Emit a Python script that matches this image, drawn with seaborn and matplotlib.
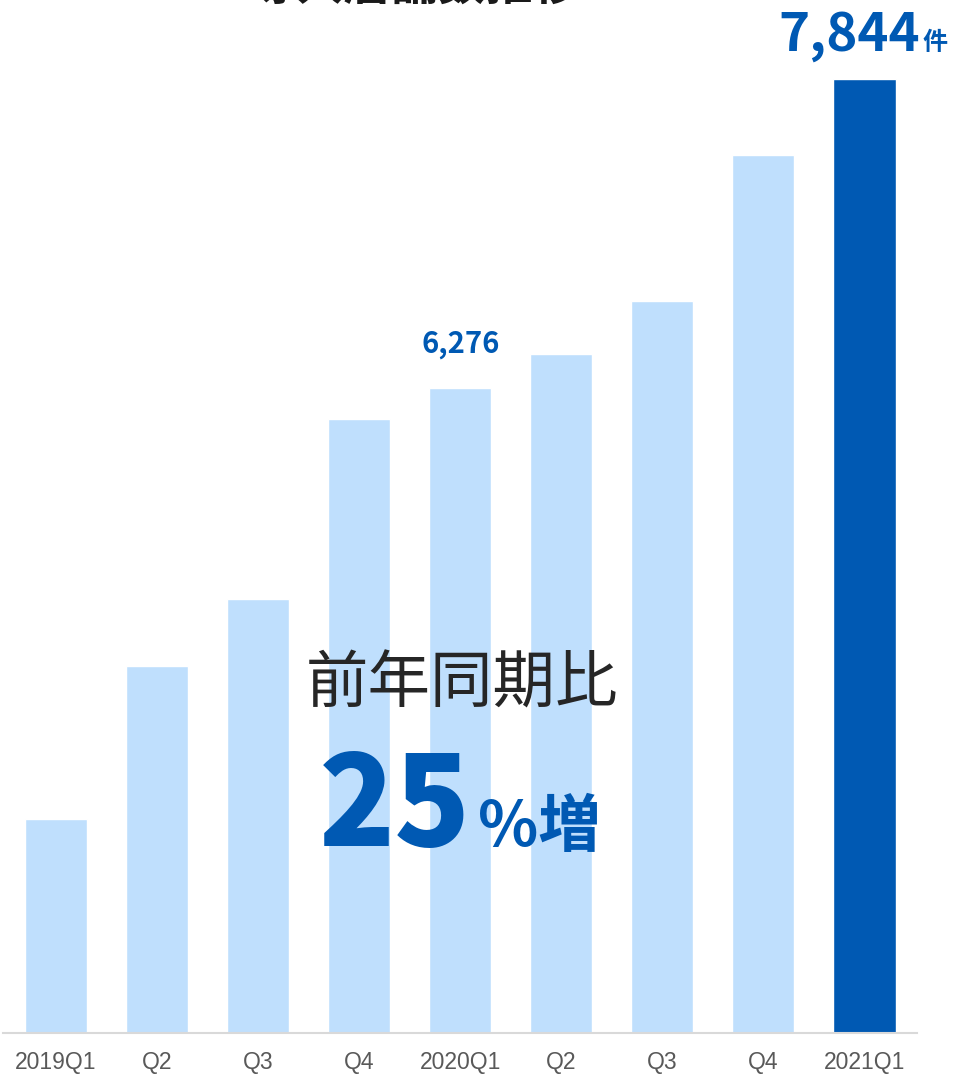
import matplotlib.pyplot as plt
import seaborn as sns
import pandas as pd

# data
quarters = ['2019Q1', 'Q2', 'Q3', 'Q4', '2020Q1', 'Q2 ', 'Q3 ', 'Q4 ', '2021Q1']
stores = [4089, 4865, 5205, 6118, 6276, 6448, 6717, 7458, 7844]
highlight = [False, False, False, False, False, False, False, False, True]
tick_labels = ['2019Q1', 'Q2', 'Q3', 'Q4', '2020Q1', 'Q2', 'Q3', 'Q4', '2021Q1']

light_blue = '#BFDFFD'
dark_blue = '#0059B3'
jp = ['Noto Sans CJK JP', 'DejaVu Sans']

sns.set_style('white')
plt.rcParams['font.family'] = jp

df = pd.DataFrame({'quarter': quarters, 'stores': stores,
                   'hl': ['y' if h else 'n' for h in highlight]})

fig = plt.figure(figsize=(9.63, 10.74), dpi=100)
ax = fig.add_axes([3 / 963, 1 - 1033 / 1074, (917 - 3) / 963, 1033 / 1074])

sns.barplot(data=df, x='quarter', y='stores', hue='hl',
            palette={'n': light_blue, 'y': dark_blue}, saturation=1,
            width=0.615, dodge=False, legend=False, ax=ax)

ax.set_xlim(-0.525, 8.52)
ax.set_ylim(3003, 8245)
ax.set_xlabel('')
ax.set_ylabel('')
ax.set_yticks([])
ax.set_xticks(range(len(tick_labels)))
ax.set_xticklabels(tick_labels, family=['Liberation Sans', 'DejaVu Sans'],
                   fontsize=16.5, color='#595959')
ax.tick_params(axis='x', length=0, pad=13)
for s in ['top', 'left', 'right']:
    ax.spines[s].set_visible(False)
ax.spines['bottom'].set_color('#D9D9D9')
ax.spines['bottom'].set_linewidth(1.5)

# value labels
ax.annotate(f'{stores[4]:,}', xy=(4, stores[4]), xytext=(0, 35),
            textcoords='offset pixels', ha='center', va='baseline',
            fontsize=21, fontweight='bold', color=dark_blue, annotation_clip=False)
ax.annotate(f'{stores[8]:,}', xy=(8, stores[8]), xytext=(56, 28),
            textcoords='offset pixels', ha='right', va='baseline',
            fontsize=38, fontweight='bold', color=dark_blue, annotation_clip=False)
ax.annotate('件', xy=(8, stores[8]), xytext=(58, 29),
            textcoords='offset pixels', ha='left', va='baseline',
            fontsize=18, fontweight='bold', color=dark_blue, annotation_clip=False)

# title (cut at the top edge as in the reference)
fig.text(415 / 963, 1 - 10 / 1074, '導入店舗数推移', ha='center', va='bottom',
         fontsize=34, fontweight='bold', color='#1A1A1A')

# centre callout
fig.text(462 / 963, 1 - 684 / 1074, '前年同期比', ha='center', va='center',
         fontsize=45, color='#262626')
fig.text(471 / 963, 1 - 846 / 1074, '25', ha='right', va='baseline',
         fontsize=90, fontweight='black', color=dark_blue)
fig.text(478 / 963, 1 - 846 / 1074, '%増', ha='left', va='baseline',
         fontsize=45, fontweight='bold', color=dark_blue)

fig.savefig('out.png', dpi=100)
